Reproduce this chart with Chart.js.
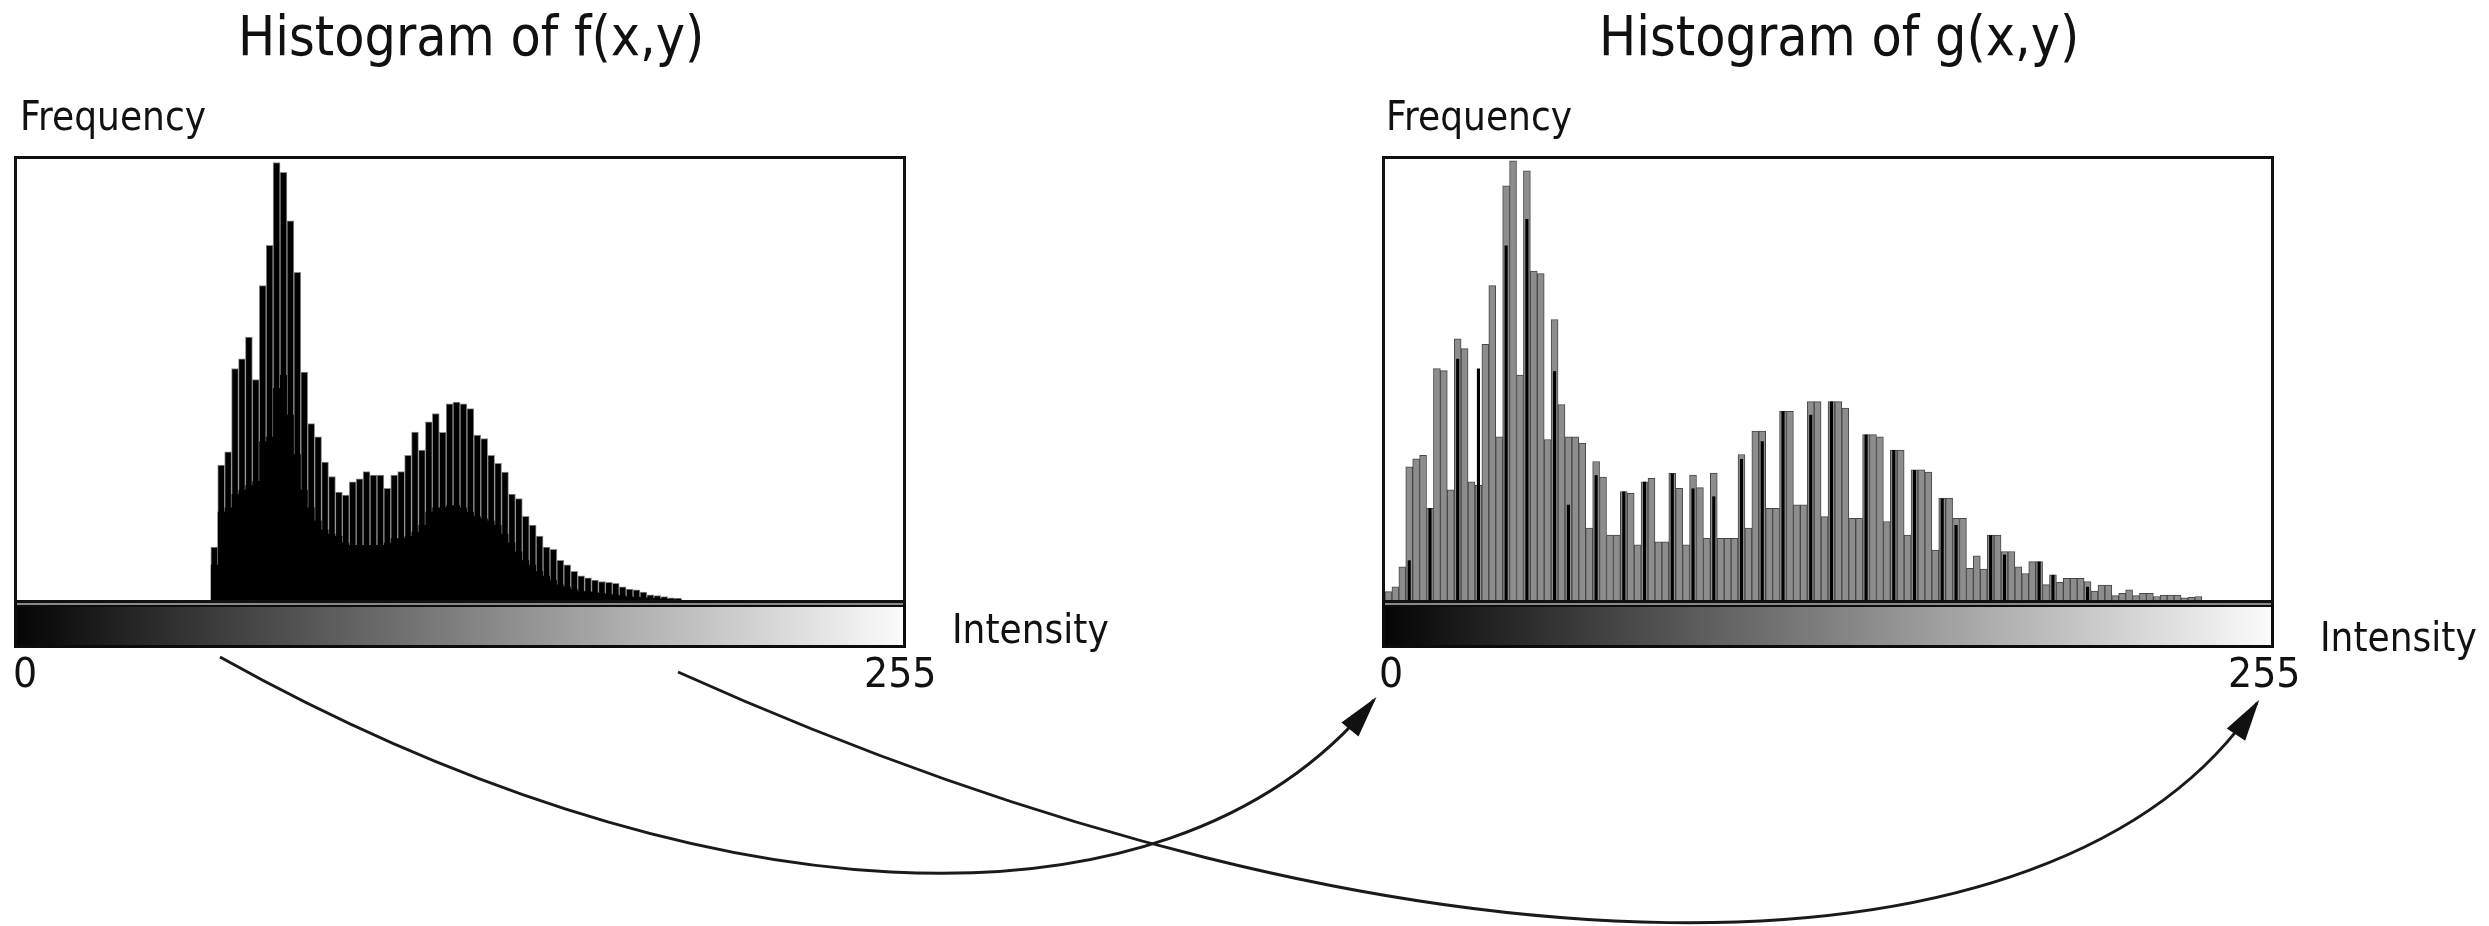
<!DOCTYPE html>
<html>
<head>
<meta charset="utf-8">
<script src="https://cdn.jsdelivr.net/npm/chart.js"></script>
<style>
  body { margin: 0; background: #fff; width: 2489px; height: 926px; overflow: hidden; position: relative; }
  canvas { position: absolute; }
  #notes { left: 0; top: 0; pointer-events: none; }
</style>
</head>
<body>
<canvas id="histF" width="892" height="492" style="left:14px; top:156px;"></canvas>
<canvas id="histG" width="892" height="492" style="left:1382px; top:156px;"></canvas>
<canvas id="notes" width="2489" height="926"></canvas>
<script>
// 128 intensity bins (2 grey levels each), heights in % of the plot height
const bins = Array.from({ length: 128 }, (_, i) => i);

// f(x,y): tall spikes and the solid black floor under them
const fPeak = [
  0, 0, 0, 0, 0, 0, 0, 0, 0, 0, 0, 0, 0, 0, 0, 0,
  0, 0, 0, 0, 0, 0, 0, 0, 0, 0, 0, 0, 12, 30.6, 33.6, 52.5,
  54.7, 59.6, 50, 71.3, 80.4, 99.2, 97, 86, 74.3, 51.7, 40, 37, 31.3, 28, 24.5, 23.8,
  26.8, 27.5, 29.1, 28.3, 28.3, 25.3, 28.3, 29.1, 32.8, 38.1, 34, 40.4, 42.3, 38, 44.5, 44.9,
  44.5, 43.4, 37.4, 36.6, 32.8, 31, 29, 24, 23, 19, 17, 14.5, 12, 11.5, 9, 8,
  6.5, 5.5, 5, 4.5, 4.2, 4, 3.8, 3, 2.5, 2.3, 1.8, 1.2, 1, 0.8, 0.5, 0.4,
  0, 0, 0, 0, 0, 0, 0, 0, 0, 0, 0, 0, 0, 0, 0, 0,
  0, 0, 0, 0, 0, 0, 0, 0, 0, 0, 0, 0, 0, 0, 0, 0
];
const fBase = [
  0, 0, 0, 0, 0, 0, 0, 0, 0, 0, 0, 0, 0, 0, 0, 0,
  0, 0, 0, 0, 0, 0, 0, 0, 0, 0, 0, 0, 8, 20, 21, 24,
  25, 26, 27, 36, 37, 48, 51, 42, 33, 25, 21, 18, 16, 15, 14.5, 13,
  12.5, 12.5, 12.5, 12.5, 12.5, 13, 14, 14, 14.5, 15.5, 17, 20, 21, 21, 21.5, 21.5,
  21, 20, 19, 18.5, 18, 17, 15, 13, 11, 9, 8, 6.5, 5.5, 4.5, 3.5, 3,
  2.5, 2, 2, 1.8, 1.6, 1.4, 1.2, 1, 0.8, 0.7, 0.6, 0.5, 0.4, 0.3, 0.2, 0.1,
  0, 0, 0, 0, 0, 0, 0, 0, 0, 0, 0, 0, 0, 0, 0, 0,
  0, 0, 0, 0, 0, 0, 0, 0, 0, 0, 0, 0, 0, 0, 0, 0
];

// g(x,y): grey bars and the black strokes between them
const gGray = [
  1.9, 3, 7.5, 30.2, 32, 32.8, 20.8, 52.5, 52, 25, 59.2, 57, 26.8, 26, 58, 71.3,
  37, 93.9, 99.6, 51, 97.3, 74.6, 74, 36.4, 63.6, 44.3, 37, 37, 35.6, 16.3, 31.4, 27.9,
  14.7, 14.7, 24.6, 24.2, 12.5, 26.8, 27.6, 13.2, 13.2, 28.7, 25.3, 12.5, 28.3, 25.5, 14, 28.8,
  14, 14, 14, 33, 16.3, 38.3, 38.3, 20.8, 20.8, 42.8, 42.8, 21.6, 21.6, 45, 45, 18.9,
  45, 45, 43.5, 18.5, 18.5, 37.5, 37.5, 37, 17.8, 34, 34, 14.7, 29.5, 29.5, 29, 11.3,
  23.1, 23.1, 18.5, 18.5, 7.2, 10, 7, 14.7, 14.7, 11, 11, 7.5, 6, 8.7, 8.7, 3.5,
  5.7, 4, 4.9, 4.9, 4.9, 4.2, 2, 3.4, 3.4, 1, 1.5, 2.3, 1, 1.5, 1.5, 0.8,
  1.1, 1.1, 1.1, 0.5, 0.6, 0.8, 0, 0, 0, 0, 0, 0, 0, 0, 0, 0
];
const gDark = [
  0, 0, 0, 9, 0, 0, 20.8, 0, 0, 0, 54.7, 0, 0, 52.5, 0, 0,
  0, 80.4, 0, 0, 86.4, 0, 0, 0, 51.9, 0, 21.6, 0, 0, 0, 28.3, 0,
  0, 0, 24.6, 0, 0, 26.8, 0, 0, 0, 28.7, 0, 0, 25.3, 0, 0, 23.5,
  0, 0, 0, 32, 0, 0, 36, 0, 0, 42.8, 0, 0, 0, 42, 0, 0,
  45, 0, 0, 0, 0, 37.5, 0, 0, 0, 34, 0, 0, 29.5, 0, 0, 0,
  23, 0, 17, 0, 0, 0, 0, 14.7, 0, 10.3, 0, 0, 0, 0, 8.7, 0,
  5.7, 0, 0, 0, 0, 3, 0, 0, 0, 0, 0, 0, 0, 0, 0, 0,
  0, 0, 0, 0, 0, 0, 0, 0, 0, 0, 0, 0, 0, 0, 0, 0
];

const noZero = arr => arr.map(v => (v > 0 ? v : null));

// frame around the plot plus the black-to-white intensity strip below it
const frameAndStrip = {
  id: 'frameAndStrip',
  afterDatasetsDraw(chart) {
    const { ctx, chartArea: a } = chart;
    const w = chart.width;
    ctx.save();
    ctx.fillStyle = '#0c0c0c';
    ctx.fillRect(0, a.bottom + 1, w, chart.height - a.bottom - 1);
    ctx.fillStyle = '#8a8a8a';
    ctx.fillRect(a.left, a.bottom + 3, a.right - a.left, 2);
    const grad = ctx.createLinearGradient(a.left, 0, a.right, 0);
    grad.addColorStop(0, '#050505');
    grad.addColorStop(1, '#fbfbfb');
    ctx.fillStyle = grad;
    ctx.fillRect(a.left, a.bottom + 7, a.right - a.left, chart.height - a.bottom - 10);
    ctx.strokeStyle = '#111';
    ctx.lineWidth = 3;
    ctx.strokeRect(a.left - 1.5, a.top - 1.5, a.right - a.left + 3, a.bottom - a.top + 3);
    ctx.restore();
  }
};

const baseOptions = {
  responsive: false,
  animation: false,
  layout: { padding: { left: 3, right: 3, top: 3, bottom: 48 } },
  plugins: { legend: { display: false }, tooltip: { enabled: false } },
  scales: {
    x: { display: false, grid: { display: false } },
    y: { display: false, min: 0, max: 100, grid: { display: false } }
  }
};

new Chart(document.getElementById('histF'), {
  type: 'bar',
  data: {
    labels: bins,
    datasets: [
      {
        type: 'line',
        data: fBase,
        stepped: 'middle',
        fill: 'origin',
        backgroundColor: '#000',
        borderWidth: 0,
        pointRadius: 0,
        order: 0
      },
      {
        data: noZero(fPeak),
        backgroundColor: '#000',
        borderColor: '#8c8c8c',
        borderWidth: 1,
        barPercentage: 1,
        categoryPercentage: 1,
        order: 1
      }
    ]
  },
  options: baseOptions,
  plugins: [frameAndStrip]
});

new Chart(document.getElementById('histG'), {
  type: 'bar',
  data: {
    labels: bins,
    datasets: [
      {
        data: noZero(gDark),
        backgroundColor: '#000',
        barPercentage: 0.45,
        categoryPercentage: 1,
        grouped: false,
        order: 0
      },
      {
        data: noZero(gGray),
        backgroundColor: '#8d8d8d',
        borderColor: '#474747',
        borderWidth: 1,
        barPercentage: 1,
        categoryPercentage: 1,
        grouped: false,
        order: 1
      }
    ]
  },
  options: baseOptions,
  plugins: [frameAndStrip]
});

// titles, axis words and the two mapping arrows
const ctx = document.getElementById('notes').getContext('2d');
ctx.fillStyle = '#111';
function label(text, x, y, size, sx) {
  ctx.save();
  ctx.translate(x, y);
  ctx.scale(sx, 1);
  ctx.font = size + 'px "DejaVu Sans"';
  ctx.fillText(text, 0, 0);
  ctx.restore();
}
label('Histogram of f(x,y)', 238, 55, 55, 0.9);
label('Histogram of g(x,y)', 1599, 55, 55, 0.9);
label('Frequency', 20, 130, 40, 0.9);
label('Frequency', 1386, 130, 40, 0.9);
label('Intensity', 952, 643, 40, 0.9);
label('Intensity', 2320, 651, 40, 0.9);
label('0', 13, 687, 40, 0.95);
label('255', 864, 687, 40, 0.95);
label('0', 1379, 687, 40, 0.95);
label('255', 2228, 687, 40, 0.95);

function arrow(p0, p1, p2, p3) {
  ctx.save();
  ctx.strokeStyle = '#1a1a1a';
  ctx.lineWidth = 3;
  ctx.beginPath();
  ctx.moveTo(p0[0], p0[1]);
  ctx.bezierCurveTo(p1[0], p1[1], p2[0], p2[1], p3[0], p3[1]);
  ctx.stroke();
  const ang = Math.atan2(p3[1] - p2[1], p3[0] - p2[0]);
  ctx.translate(p3[0], p3[1]);
  ctx.rotate(ang);
  ctx.fillStyle = '#111';
  ctx.beginPath();
  ctx.moveTo(4, 0);
  ctx.lineTo(-38, -11);
  ctx.lineTo(-38, 11);
  ctx.closePath();
  ctx.fill();
  ctx.restore();
}
arrow([220, 657], [681, 915], [1163, 958], [1374, 700]);
arrow([678, 672], [1411, 1002], [2060, 1000], [2257, 703]);
</script>
</body>
</html>
